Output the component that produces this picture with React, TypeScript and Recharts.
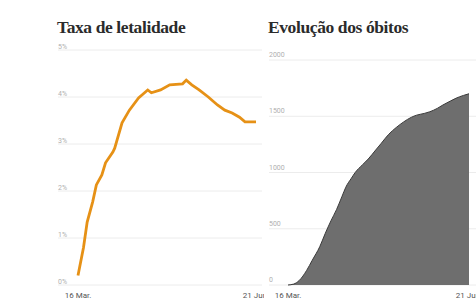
import React from 'react'
import { LineChart, Line, AreaChart, Area, XAxis, YAxis, CartesianGrid } from 'recharts'

// days since 16 Mar.
const rateDays = [0, 3, 5, 8, 10, 13, 15, 19, 20, 24, 28, 33, 38, 40, 45, 50, 57, 59, 62, 66, 71, 76, 80, 84, 88, 91, 97]
const rateValues = [0.2, 0.8, 1.34, 1.77, 2.13, 2.34, 2.6, 2.83, 2.91, 3.45, 3.72, 3.98, 4.15, 4.09, 4.15, 4.26, 4.28, 4.36, 4.26, 4.15, 4.0, 3.83, 3.72, 3.66, 3.57, 3.47, 3.47]

const deathDays = [0, 3, 6, 10, 13, 17, 20, 23, 26, 29, 31, 34, 36, 40, 43, 47, 50, 54, 58, 62, 66, 69, 73, 76, 80, 83, 87, 90, 94, 97]
const deathValues = [0, 8, 40, 130, 220, 340, 460, 570, 670, 790, 870, 950, 1000, 1070, 1120, 1200, 1260, 1340, 1400, 1450, 1490, 1510, 1525, 1540, 1570, 1600, 1635, 1660, 1685, 1700]

const dateTicks = [0, 97]
const dateLabels = ['16 Mar.', '21 Jun.']
const rateTicks = [0, 1, 2, 3, 4, 5]
const deathTicks = [0, 500, 1000, 1500, 2000]

const rateData = rateDays.map((d, i) => ({ day: d, rate: rateValues[i] }))
const deathData = deathDays.map((d, i) => ({ day: d, deaths: deathValues[i] }))

const titleStyle: React.CSSProperties = {
  position: 'absolute',
  top: 18,
  fontFamily: '"Liberation Serif", serif',
  fontWeight: 700,
  fontSize: 17.5,
  lineHeight: '18px',
  letterSpacing: -0.4,
  color: '#2b2b2b',
  whiteSpace: 'nowrap',
}

const dateTick = (p: any) => (
  <text x={p.x} y={298} textAnchor="middle" fontSize={8} fontFamily="Roboto" fill="#555">
    {dateLabels[dateTicks.indexOf(p.payload.value)]}
  </text>
)

export default function App() {
  return (
    <div style={{ position: 'absolute', left: 0, top: 0, width: 476, height: 303, overflow: 'hidden', background: '#fff' }}>
      <div style={{ position: 'absolute', left: 0, top: 0, width: 264, height: 303, overflow: 'hidden' }}>
        <div style={{ ...titleStyle, left: 57 }}>Taxa de letalidade</div>
        <LineChart width={264} height={303} data={rateData} margin={{ top: 50, right: 2, left: 57, bottom: 0 }}>
          <CartesianGrid vertical={false} stroke="#ececec" />
          <XAxis
            dataKey="day"
            type="number"
            domain={[0, 97]}
            ticks={dateTicks}
            padding={{ left: 20, right: 6 }}
            axisLine={false}
            tickLine={false}
            height={18}
            tick={dateTick}
          />
          <YAxis
            type="number"
            domain={[0, 5]}
            ticks={rateTicks}
            width={1}
            axisLine={false}
            tickLine={false}
            tick={(p: any) => (
              <text x={58} y={p.y - 1} fontSize={7} fontFamily="Roboto" fill="#b0b0b0">
                {p.payload.value + '%'}
              </text>
            )}
          />
          <Line
            dataKey="rate"
            type="linear"
            stroke="#e69116"
            strokeWidth={2.8}
            dot={false}
            isAnimationActive={false}
          />
        </LineChart>
      </div>
      <div style={{ position: 'absolute', left: 264, top: 0, width: 212, height: 303, overflow: 'hidden' }}>
        <div style={{ ...titleStyle, left: 4 }}>Evolução dos óbitos</div>
        <AreaChart width={220} height={303} data={deathData} margin={{ top: 60, right: 4, left: 4, bottom: 0 }}>
          <CartesianGrid vertical={false} stroke="#ececec" />
          <XAxis
            dataKey="day"
            type="number"
            domain={[0, 97]}
            ticks={dateTicks}
            padding={{ left: 19, right: 11 }}
            axisLine={false}
            tickLine={false}
            height={18}
            tick={dateTick}
          />
          <YAxis
            type="number"
            domain={[0, 2000]}
            ticks={deathTicks}
            width={1}
            axisLine={false}
            tickLine={false}
            tick={(p: any) => (
              <text x={5} y={p.y - 3} fontSize={7} fontFamily="Roboto" fill="#b0b0b0">
                {String(p.payload.value)}
              </text>
            )}
          />
          <Area
            dataKey="deaths"
            type="monotone"
            stroke="#3a3a3a"
            strokeWidth={1}
            fill="#6e6e6e"
            fillOpacity={1}
            isAnimationActive={false}
          />
        </AreaChart>
      </div>
    </div>
  )
}
